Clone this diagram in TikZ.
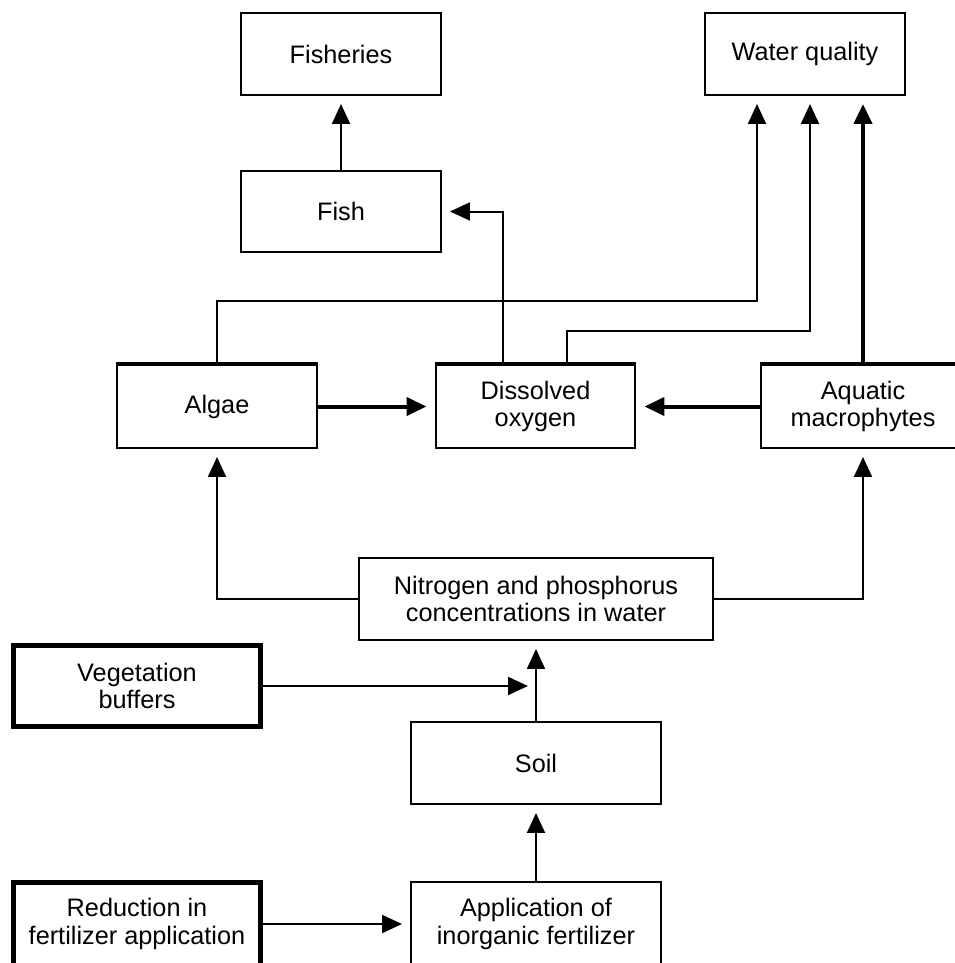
\documentclass[tikz,border=0pt]{standalone}
\usepackage{fontspec}
\setmainfont{Liberation Sans}
\usetikzlibrary{arrows.meta}

\tikzset{
  box/.style={draw, line width=0.04cm, minimum width=4cm, minimum height=1.64cm,
    align=center, inner sep=0pt, font=\fontsize{14.4}{15.6}\selectfont},
  thickbox/.style={box, line width=0.1cm},
  arr/.style={line width=0.04cm, -{Triangle[length=0.4cm,width=0.36cm]}, shorten >=0.16cm},
  thickarr/.style={arr, line width=0.08cm},
}

\begin{document}
\begin{tikzpicture}[x=0.02cm, y=-0.02cm]
    \useasboundingbox (0,0) rectangle (954,963);

    % Top row
    \node[box] (Fisheries) at (341,54) {Fisheries};
    \node[box] (WQ) at (805,54) {Water quality};
    \node[box] (Fish) at (341,211.5) {Fish};

    % Middle row
    \node[box, minimum height=1.66cm] (Algae) at (217,406.5) {Algae};
    \node[box, minimum height=1.66cm] (DO) at (535.5,406.5) {Dissolved\\oxygen};
    \node[box, minimum height=1.66cm, minimum width=4.08cm] (AM) at (863,406.5) {Aquatic\\macrophytes};
    \foreach \n in {Algae,DO,AM}
        \draw[line width=0.08cm] (\n.north west) -- (\n.north east); % heavier top edge

    % Lower part
    \node[box, minimum width=7.08cm] (NP) at (536,599) {Nitrogen and phosphorus\\concentrations in water};
    \node[thickbox, minimum width=4.94cm, minimum height=1.62cm] (Veg) at (137,686) {Vegetation\\buffers};
    \node[box, minimum width=5cm] (Soil) at (536,763) {Soil};
    \node[box, minimum width=5cm, minimum height=1.68cm] (App) at (536,924) {Application of\\inorganic fertilizer};
    \node[thickbox, minimum width=4.94cm, minimum height=1.68cm] (Red) at (137,924) {Reduction in\\fertilizer application};

    % Bends
    \coordinate (K1) at (757,301);
    \coordinate (K2) at (503,0);
    \coordinate (K3) at (567,0);
    \coordinate (K4) at (810,331);

    % Links
    \draw[arr] (Fish.north) -- (Fisheries.south);
    \draw[arr] (DO.north -| K2) |- (Fish.east);
    \draw[arr] (Algae.north) |- (K1) -- (K1 |- WQ.south);
    \draw[arr] (DO.north -| K3) |- (K4) -- (K4 |- WQ.south);
    \draw[thickarr] (AM.north) -- (AM.north |- WQ.south);
    \draw[thickarr] (Algae.east) -- (DO.west);
    \draw[thickarr] (AM.west) -- (DO.east);
    \draw[arr] (NP.west) -| (Algae.south);
    \draw[arr] (NP.east) -| (AM.south);
    \draw[arr] (Soil.north) -- (NP.south);
    \draw[arr] (Veg.east) -- (Veg.east -| Soil.north);
    \draw[arr] (App.north) -- (Soil.south);
    \draw[arr] (Red.east) -- (App.west);
\end{tikzpicture}
\end{document}
